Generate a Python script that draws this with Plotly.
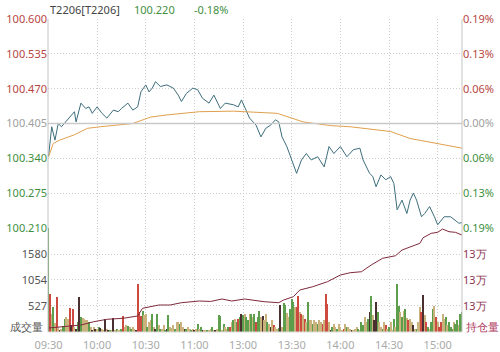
import plotly.graph_objects as go

# ---------------- data ----------------
symbol = "T2206[T2206]"
last_price = "100.220"
last_change = "-0.18%"
pre_settle = 100.405

time_ticks = [0, 30, 60, 90, 120, 150, 180, 210, 240]
time_labels = ["09:30", "10:00", "10:30", "11:00", "13:00", "13:30", "14:00", "14:30", "15:00"]

price_ticks = [100.210, 100.275, 100.340, 100.405, 100.470, 100.535, 100.600]
pct_labels = ["0.19%", "0.13%", "0.06%", "0.00%", "0.06%", "0.13%", "0.19%"]

price_min = [0, 2, 4, 6, 8, 12, 16, 17, 20, 23, 25, 27, 30, 33, 36, 40, 43, 45, 49, 52,
             55, 57, 60, 62, 64, 66, 69, 73, 77, 80, 82, 85, 89, 92, 95, 99, 102, 106, 109, 114,
             117, 119, 123, 124, 128, 131, 134, 137, 140, 142, 144, 147, 150, 153, 156, 159, 162, 166, 170, 173,
             176, 180, 184, 188, 192, 194, 198, 200, 202, 205, 208, 211, 213, 215, 218, 221, 223, 225, 227, 230,
             232, 235, 238, 240, 244, 248, 253, 255]
price = [100.343, 100.399, 100.374, 100.405, 100.399, 100.412, 100.427, 100.408, 100.443, 100.433,
         100.436, 100.424, 100.436, 100.424, 100.415, 100.430, 100.427, 100.433, 100.443, 100.430,
         100.436, 100.464, 100.477, 100.464, 100.471, 100.483, 100.474, 100.477, 100.471, 100.458,
         100.446, 100.461, 100.471, 100.468, 100.452, 100.443, 100.458, 100.433, 100.443, 100.440,
         100.436, 100.449, 100.421, 100.415, 100.402, 100.380, 100.396, 100.402, 100.412, 100.408,
         100.380, 100.362, 100.337, 100.312, 100.337, 100.349, 100.337, 100.343, 100.324, 100.362,
         100.349, 100.362, 100.343, 100.356, 100.359, 100.337, 100.312, 100.306, 100.287, 100.309,
         100.300, 100.306, 100.293, 100.244, 100.262, 100.237, 100.262, 100.275, 100.262, 100.231,
         100.237, 100.250, 100.231, 100.216, 100.231, 100.231, 100.219, 100.220]

avg_min = [0, 3, 7, 16, 24, 32, 52, 59, 63, 73, 83, 93, 114, 124, 141, 157, 174, 186, 202, 211, 223, 239, 255]
avg_price = [100.343, 100.368, 100.374, 100.384, 100.396, 100.399, 100.405, 100.412, 100.417, 100.421,
             100.424, 100.427, 100.428, 100.427, 100.424, 100.408, 100.401, 100.399, 100.393, 100.390,
             100.377, 100.368, 100.359]

oi_min = [0, 8, 20, 28, 36, 46, 55, 58, 61, 68, 75, 82, 93, 100, 107, 113, 121, 128, 133, 142,
          145, 151, 155, 163, 172, 180, 186, 193, 199, 206, 214, 218, 224, 229, 231, 236, 240, 243, 247, 251, 255]
open_interest = [126308, 126385, 126538, 126792, 126977, 127054, 127230, 127823, 127900, 128076,
                 128076, 128253, 128384, 128350, 128538, 128384, 128538, 128384, 128330, 128253,
                 128461, 128715, 129230, 129484, 129868, 130383, 130560, 130637, 131152, 131668,
                 131868, 132306, 132560, 132821, 133252, 133590, 133667, 133921, 133713, 133667, 133460]

volume = [2600, 777, 370, 500, 180, 717, 100, 47, 67, 120,
          268, 300, 268, 494, 150, 470, 100, 67, 200, 709,
          300, 290, 268, 240, 235, 200, 100, 47, 100, 67,
          67, 100, 90, 67, 50, 268, 67, 33, 50, 40,
          288, 47, 67, 40, 33, 60, 315, 100, 134, 113,
          100, 67, 100, 67, 33, 980, 400, 315, 435, 335,
          370, 100, 200, 235, 368, 100, 67, 368, 134, 67,
          67, 134, 50, 67, 335, 100, 90, 134, 67, 200,
          200, 167, 200, 100, 67, 67, 100, 67, 50, 67,
          33, 67, 167, 67, 100, 50, 47, 33, 47, 33,
          67, 100, 47, 33, 67, 335, 315, 33, 167, 100,
          67, 100, 100, 200, 235, 268, 200, 270, 300, 368,
          350, 368, 302, 235, 368, 370, 300, 370, 200, 302,
          435, 302, 315, 235, 368, 200, 168, 100, 235, 150,
          100, 67, 80, 556, 100, 583, 556, 382, 302, 470,
          670, 603, 500, 503, 737, 402, 368, 335, 268, 200,
          603, 235, 235, 168, 250, 200, 168, 235, 200, 168,
          235, 770, 570, 200, 33, 100, 168, 100, 67, 168,
          100, 33, 67, 168, 100, 100, 67, 33, 33, 67,
          100, 67, 33, 200, 150, 300, 200, 268, 402, 729,
          335, 250, 607, 400, 200, 100, 67, 200, 134, 67,
          100, 200, 50, 268, 100, 980, 536, 402, 300, 435,
          470, 280, 250, 268, 200, 134, 67, 67, 200, 502,
          400, 757, 335, 200, 100, 67, 200, 470, 536, 300,
          200, 100, 200, 368, 268, 300, 134, 200, 100, 67,
          200, 168, 235, 150, 368, 400]

# bar direction codes: g = down-tick (green), r = up-tick (red), k = dark, t = neutral
vol_dir = ("grtgtrtktg" "gttrkrtkgk" "gttttgtktk" "tgkttktkgt" "ktgttgrttg"
           "tgttkrrrgt" "tgttgtkgtg" "ttgkgtttgt" "tgttkgttgt" "ktgtgkttgt"
           "tgtktggtgt" "tgrtgtgrgk" "gtggtgtgrg" "gtkttgtktr" "ttgktggttg"
           "ggtrrtrtrt" "gttgttgttr" "trrtkgttgt" "ttrtgttktt" "tgtggttgkg"
           "tkkgttgtrt" "gttgtggtgt" "gtrttktgtt" "rktrgtggtr" "trrttgtggg"
           "tggtgg")

vol_ticks = [527, 1054, 1580, 2107]
vol_labels = ["527", "1054", "1580", ""]
vol_name = "成交量"
oi_ticks = [128000, 130000, 132000, 134000]
oi_labels = ["13万", "13万", "13万", ""]
oi_name = "持仓量"

# ---------------- styling ----------------
RED = "#b8463f"
GREEN = "#3f8f3f"
GRAY = "#a0a0a0"
FONT = "Noto Sans"
dir_colors = {"g": "#5c9e4c", "r": "#cc4a40", "k": "#4a3030", "t": "#c9b27c"}
bar_colors = [dir_colors[c] for c in vol_dir]

left_text = []
for v in price_ticks:
    col = RED if v > pre_settle + 1e-9 else (GREEN if v < pre_settle - 1e-9 else GRAY)
    left_text.append(f"<span style='color:{col}'>{v:.3f}</span>")
right_text = []
for v, lab in zip(price_ticks, pct_labels):
    col = RED if v > pre_settle + 1e-9 else (GREEN if v < pre_settle - 1e-9 else GRAY)
    right_text.append(f"<span style='color:{col}'>{lab}</span>")

fig = go.Figure()
fig.add_trace(go.Scatter(x=avg_min, y=avg_price, mode="lines", xaxis="x", yaxis="y2",
                         line=dict(color="#e0a04e", width=1), hoverinfo="skip"))
fig.add_trace(go.Scatter(x=price_min, y=price, mode="lines", xaxis="x", yaxis="y",
                         line=dict(color="#3d6e7c", width=1), hoverinfo="skip"))
fig.add_trace(go.Bar(x=list(range(len(volume))), y=volume, xaxis="x2", yaxis="y3",
                     marker=dict(color=bar_colors, line=dict(width=0)), width=0.65))
fig.add_trace(go.Scatter(x=oi_min, y=open_interest, mode="lines", xaxis="x2", yaxis="y4",
                         line=dict(color="#7e2a3c", width=1), hoverinfo="skip"))

split = (332 - 228) / 313.0
xr = [-0.3, 255]
grid = dict(showgrid=True, gridcolor="#cccccc", griddash="1px,2px", gridwidth=1, zeroline=False,
            automargin=False)

fig.update_layout(
    width=500, height=352,
    margin=dict(l=48, r=38, t=19, b=20, autoexpand=False),
    paper_bgcolor="white", plot_bgcolor="white",
    showlegend=False, bargap=0,
    font=dict(family=FONT, size=11, color="#555"),
    xaxis=dict(domain=[0, 1], anchor="y", range=xr, tickvals=time_ticks, showticklabels=False,
               ticks="", **grid),
    xaxis2=dict(domain=[0, 1], anchor="y3", range=xr, tickvals=time_ticks, ticktext=time_labels,
                ticks="outside", ticklen=3, tickcolor="rgba(0,0,0,0)",
                tickfont=dict(color="#aaaaaa", size=11, family=FONT), **grid),
    yaxis=dict(domain=[split, 1], range=[100.210, 100.600], tickvals=price_ticks, ticktext=left_text,
               ticks="", tickfont=dict(size=11, family=FONT), **grid),
    yaxis2=dict(overlaying="y", side="right", range=[100.210, 100.600], tickvals=price_ticks,
                ticktext=right_text, ticks="", showgrid=False, zeroline=False, automargin=False,
                tickfont=dict(size=11, family=FONT)),
    yaxis3=dict(domain=[0, split], range=[0, 2107], tickvals=vol_ticks, ticktext=vol_labels,
                ticks="", tickfont=dict(size=11, family=FONT, color="#555"), **grid),
    yaxis4=dict(overlaying="y3", side="right", range=[126000, 134000], tickvals=oi_ticks,
                ticktext=oi_labels, ticks="", showgrid=False, zeroline=False, automargin=False,
                tickfont=dict(size=11, family=FONT, color="#8e3350")),
)

shapes = [
    dict(type="line", xref="x", yref="y", x0=xr[0], x1=xr[1], y0=pre_settle, y1=pre_settle,
         line=dict(color="#c9c9c9", width=1.5)),
    dict(type="line", xref="paper", yref="paper", x0=0, x1=0, y0=0, y1=1,
         line=dict(color="#c4c4c4", width=1)),
    dict(type="line", xref="paper", yref="paper", x0=1, x1=1, y0=0, y1=1,
         line=dict(color="#c4c4c4", width=1)),
    dict(type="line", xref="paper", yref="paper", x0=0, x1=1, y0=0, y1=0,
         line=dict(color="#dddddd", width=1)),
]
fig.update_layout(shapes=shapes)

ty = (332 - 9) / 313.0
fig.add_annotation(xref="paper", yref="paper", x=0.0, y=ty, xanchor="left", yanchor="middle",
                   text=symbol, showarrow=False, font=dict(size=11, family=FONT, color="#444"))
fig.add_annotation(xref="paper", yref="paper", x=(132 - 48) / 414.0, y=ty, xanchor="left",
                   yanchor="middle", text=last_price, showarrow=False,
                   font=dict(size=11, family=FONT, color=GREEN))
fig.add_annotation(xref="paper", yref="paper", x=(192 - 48) / 414.0, y=ty, xanchor="left",
                   yanchor="middle", text=last_change, showarrow=False,
                   font=dict(size=11, family=FONT, color=GREEN))

# panel names at the bottom of the volume panel
ny = (332 - 326) / 313.0
fig.add_annotation(xref="paper", yref="paper", x=-3 / 414.0, y=ny, xanchor="right", yanchor="middle",
                   text=vol_name, showarrow=False, font=dict(size=11, family=FONT, color="#555"))
fig.add_annotation(xref="paper", yref="paper", x=1 + 2 / 414.0, y=ny, xanchor="left", yanchor="middle",
                   text=oi_name, showarrow=False, font=dict(size=11, family=FONT, color="#b03a5c"))

fig.write_html("out.html")
